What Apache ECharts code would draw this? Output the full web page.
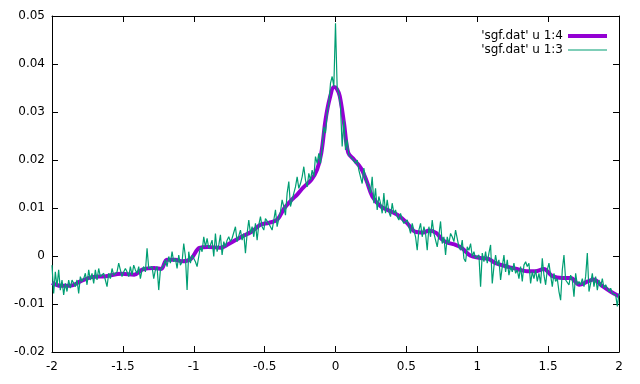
<!DOCTYPE html>
<html>
<head>
<meta charset="utf-8">
<script src="https://cdn.jsdelivr.net/npm/echarts@6/dist/echarts.min.js"></script>
<style>html,body{margin:0;padding:0;background:#fff}#c{width:640px;height:384px}</style>
</head>
<body>
<div id="c"></div>
<script>
// Smoothed curve ('sgf.dat' u 1:4)
const smoothX = [-2.00,-1.94,-1.87,-1.80,-1.72,-1.62,-1.51,-1.42,-1.36,-1.28,-1.23,-1.19,-1.13,-1.08,-1.02,-0.96,-0.90,-0.81,-0.76,-0.67,-0.59,-0.53,-0.47,-0.41,-0.36,-0.31,-0.27,-0.23,-0.17,-0.13,-0.10,-0.07,-0.04,-0.01,0.01,0.03,0.06,0.09,0.13,0.18,0.22,0.26,0.32,0.39,0.45,0.51,0.56,0.62,0.66,0.71,0.75,0.79,0.84,0.89,0.95,1.02,1.08,1.13,1.21,1.28,1.35,1.41,1.47,1.53,1.60,1.66,1.72,1.78,1.82,1.88,1.94,2.00];
const smoothY = [-0.0056,-0.0062,-0.0062,-0.0053,-0.0044,-0.0042,-0.0037,-0.0039,-0.0028,-0.0025,-0.0027,-0.0008,-0.0008,-0.0011,-0.0006,0.0017,0.0019,0.0017,0.0024,0.0039,0.0051,0.0065,0.0069,0.0076,0.0100,0.0117,0.0128,0.0142,0.0159,0.0180,0.0215,0.0284,0.0329,0.0352,0.0348,0.0333,0.0277,0.0215,0.0201,0.0183,0.0156,0.0124,0.0103,0.0093,0.0083,0.0067,0.0051,0.0049,0.0053,0.0048,0.0035,0.0028,0.0024,0.0017,0.0001,-0.0004,-0.0006,-0.0015,-0.0022,-0.0027,-0.0032,-0.0032,-0.0027,-0.0042,-0.0046,-0.0046,-0.0060,-0.0053,-0.0049,-0.0062,-0.0074,-0.0084];

// Raw curve ('sgf.dat' u 1:3): samples evenly spaced from rawXMin to rawXMax
const rawXMin = -2, rawXMax = 2;
const rawY = [
-0.0019,-0.0078,-0.0033,-0.0064,-0.0029,-0.0071,-0.0050,-0.0081,-0.0057,-0.0074,
-0.0050,-0.0067,-0.0050,-0.0057,-0.0064,-0.0050,-0.0078,-0.0043,-0.0053,-0.0047,
-0.0036,-0.0060,-0.0029,-0.0050,-0.0036,-0.0057,-0.0029,-0.0050,-0.0026,-0.0043,
-0.0040,-0.0036,-0.0050,-0.0064,-0.0036,-0.0047,-0.0026,-0.0040,-0.0043,-0.0033,
-0.0015,-0.0029,-0.0043,-0.0033,-0.0026,-0.0033,-0.0043,-0.0022,-0.0040,-0.0019,
-0.0029,-0.0036,-0.0022,-0.0047,-0.0029,-0.0022,-0.0033,0.0016,-0.0026,-0.0029,
-0.0022,-0.0047,-0.0029,-0.0022,-0.0071,-0.0029,-0.0029,-0.0019,-0.0008,-0.0022,
-0.0001,-0.0015,0.0009,-0.0012,-0.0005,-0.0026,0.0002,-0.0019,-0.0012,0.0026,
-0.0001,-0.0071,0.0009,-0.0015,0.0002,0.0006,-0.0012,-0.0022,-0.0001,0.0019,
0.0009,0.0040,0.0019,0.0037,0.0016,0.0023,0.0033,-0.0001,0.0047,0.0009,
0.0023,0.0044,0.0002,0.0030,0.0019,0.0033,0.0040,0.0030,0.0037,0.0033,
0.0061,0.0030,
0.0026,0.0054,0.0033,0.0047,0.0006,0.0047,0.0075,0.0047,
0.0061,0.0040,0.0068,0.0033,0.0065,0.0082,0.0061,0.0054,0.0078,0.0075,
0.0068,0.0061,0.0054,0.0075,0.0096,0.0061,0.0078,0.0092,0.0117,0.0103,
0.0085,0.0131,0.0155,0.0103,0.0117,0.0131,0.0144,0.0165,0.0141,0.0151,
0.0165,0.0186,0.0158,0.0144,0.0172,0.0158,0.0179,0.0165,0.0207,0.0193,
0.0214,0.0193,0.0228,0.0269,0.0256,0.0297,0.0318,0.0360,0.0374,0.0353,
0.0485,
0.0350,0.0339,0.0311,0.0228,0.0283,0.0221,0.0242,0.0210,0.0214,
0.0203,0.0207,0.0193,0.0200,0.0179,0.0165,0.0151,0.0183,0.0162,0.0151,
0.0144,0.0131,0.0165,0.0110,0.0141,0.0096,0.0124,0.0110,0.0089,0.0131,
0.0089,0.0117,0.0092,0.0082,0.0110,0.0089,0.0096,0.0082,0.0075,0.0089,
0.0075,0.0068,0.0065,0.0075,0.0061,0.0047,0.0068,0.0054,0.0040,0.0012,
0.0054,0.0068,0.0040,0.0061,0.0047,0.0012,0.0061,0.0040,0.0075,0.0047,
0.0047,0.0019,0.0044,0.0072,0.0026,0.0040,0.0002,0.0040,0.0026,0.0047,
0.0040,0.0030,0.0054,0.0058,0.0019,0.0012,0.0033,-0.0005,-0.0012,0.0019,
0.0012,0.0026,-0.0001,0.0009,-0.0005,-0.0008,0.0002,-0.0064,0.0006,-0.0012,
0.0009,-0.0015,0.0006,0.0023,-0.0057,-0.0022,0.0002,-0.0019,-0.0008,-0.0050,
-0.0022,0.0002,-0.0033,-0.0008,-0.0040,-0.0022,-0.0033,-0.0015,-0.0036,-0.0029,
-0.0047,-0.0022,-0.0053,-0.0019,-0.0012,-0.0022,-0.0015,
-0.0057,-0.0033,-0.0047,
-0.0029,-0.0053,-0.0036,-0.0057,-0.0005,-0.0040,-0.0060,-0.0029,-0.0015,-0.0040,
-0.0064,-0.0036,-0.0053,-0.0047,-0.0074,-0.0092,-0.0029,0.0002,-0.0050,-0.0047,
-0.0060,-0.0040,-0.0050,-0.0085,-0.0036,-0.0060,-0.0053,-0.0060,-0.0047,-0.0064,
-0.0043,0.0006,-0.0074,-0.0057,-0.0036,-0.0064,-0.0043,-0.0071,-0.0050,-0.0064,
-0.0047,-0.0067,-0.0060,-0.0057,-0.0074,-0.0067,-0.0078,-0.0074,-0.0081,-0.0105,
-0.0078
];

const seriesNames = ["'sgf.dat' u 1:4", "'sgf.dat' u 1:3"];
const seriesColors = ['#9400d3', '#009e73'];
const xTicks = {min: -2, max: 2, interval: 0.5};
const yTicks = {min: -0.02, max: 0.05, interval: 0.01};

const smoothData = smoothX.map((x, i) => [x, smoothY[i]]);
const rawStep = (rawXMax - rawXMin) / (rawY.length - 1);
const rawData = rawY.map((y, i) => [rawXMin + i * rawStep, y]);

const FONT = 'DejaVu Sans';
const fmt = v => String(+v.toFixed(3));
const axisLine = {show: true, onZero: false, lineStyle: {color: '#000', width: 1}};
const tick = {show: true, inside: true, length: 6, lineStyle: {color: '#000', width: 1}};

const chart = echarts.init(document.getElementById('c'), null, {renderer: 'canvas'});
chart.setOption({
  animation: false,
  backgroundColor: '#fff',
  grid: {left: 52, right: 21, top: 16, bottom: 32, containLabel: false},
  legend: {
    data: [
      {name: seriesNames[0], icon: 'path://M0,0 L39,0 L39,4 L0,4 Z'},
      {name: seriesNames[1], icon: 'path://M0,0 L39,0 L39,1 L0,1 Z'}
    ],
    orient: 'vertical',
    right: 33, top: 30,
    padding: 0,
    align: 'right',
    itemWidth: 39, itemHeight: 14, itemGap: 2,
    textStyle: {fontFamily: FONT, fontSize: 12, color: '#000'}
  },
  xAxis: [
    {type: 'value', position: 'bottom', min: xTicks.min, max: xTicks.max, interval: xTicks.interval,
     axisLine: axisLine, axisTick: tick, splitLine: {show: false},
     axisLabel: {fontFamily: FONT, fontSize: 12, color: '#000', margin: 9, formatter: fmt}},
    {type: 'value', position: 'top', min: xTicks.min, max: xTicks.max, interval: xTicks.interval,
     axisLine: axisLine, axisTick: tick, splitLine: {show: false}, axisLabel: {show: false}}
  ],
  yAxis: [
    {type: 'value', position: 'left', min: yTicks.min, max: yTicks.max, interval: yTicks.interval,
     axisLine: axisLine, axisTick: tick, splitLine: {show: false},
     axisLabel: {fontFamily: FONT, fontSize: 12, color: '#000', margin: 7, formatter: fmt}},
    {type: 'value', position: 'right', min: yTicks.min, max: yTicks.max, interval: yTicks.interval,
     axisLine: axisLine, axisTick: tick, splitLine: {show: false}, axisLabel: {show: false}}
  ],
  series: [
    {name: seriesNames[0], type: 'line', data: smoothData, symbol: 'none', smooth: 0.35,
     xAxisIndex: 0, yAxisIndex: 0, z: 2,
     lineStyle: {color: seriesColors[0], width: 4}, itemStyle: {color: seriesColors[0]}},
    {name: seriesNames[1], type: 'line', data: rawData, symbol: 'none',
     xAxisIndex: 0, yAxisIndex: 0, z: 3,
     lineStyle: {color: seriesColors[1], width: 1.2}, itemStyle: {color: seriesColors[1]}}
  ]
});
</script>
</body>
</html>
